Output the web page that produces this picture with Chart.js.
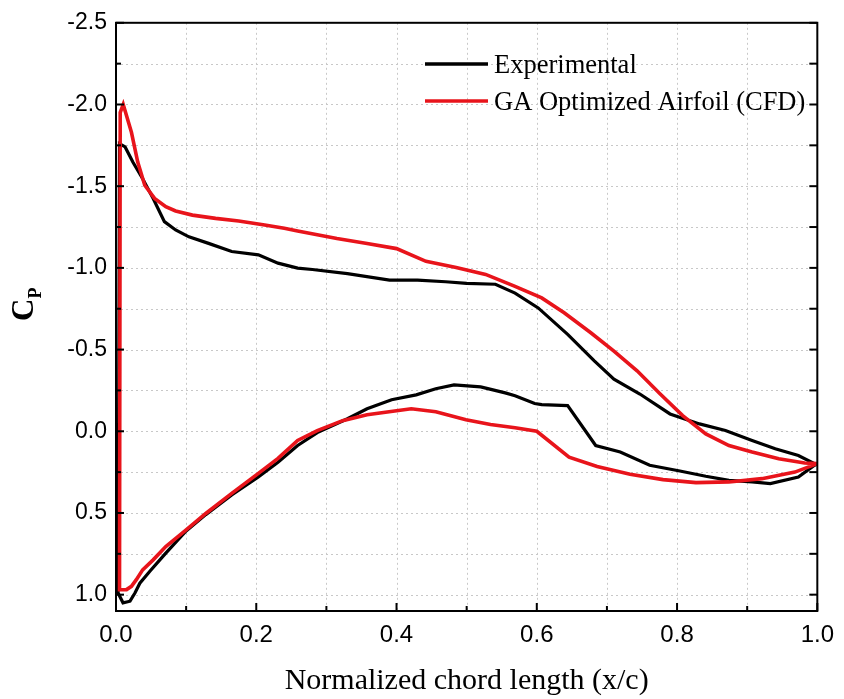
<!DOCTYPE html>
<html><head><meta charset="utf-8">
<script src="https://cdn.jsdelivr.net/npm/chart.js@4.4.1/dist/chart.umd.min.js"></script>
<style>html,body{margin:0;padding:0;background:#fff}#wrap{width:844px;height:699px}</style>
</head><body><div id="wrap"><canvas id="c" width="844" height="699"></canvas></div>
<script>
// Experimental: upper surface (TE -> LE), then lower surface (LE -> TE)
const expX = [1.0,0.996,0.973,0.94,0.907,0.869,0.832,0.79,0.747,0.71,0.682,0.644,0.602,0.569,0.541,0.50,0.47,0.43,0.39,0.33,0.28,0.259,0.231,0.203,0.165,0.132,0.104,0.085,0.069,0.053,0.038,0.024,0.013,0.005,
  0.003,0.01,0.02,0.027,0.034,0.048,0.071,0.1,0.128,0.165,0.203,0.231,0.259,0.287,0.33,0.358,0.393,0.428,0.456,0.482,0.52,0.555,0.569,0.597,0.607,0.644,0.684,0.719,0.761,0.804,0.841,0.874,0.907,0.933,0.973,0.996,1.0];
const expCp = [0.20,0.198,0.148,0.107,0.056,-0.005,-0.045,-0.106,-0.228,-0.319,-0.431,-0.593,-0.755,-0.846,-0.90,-0.905,-0.915,-0.925,-0.925,-0.965,-0.99,-0.999,-1.029,-1.08,-1.10,-1.15,-1.19,-1.232,-1.283,-1.425,-1.546,-1.648,-1.74,-1.76,
  0.99,1.05,1.04,0.99,0.93,0.858,0.746,0.61,0.51,0.39,0.279,0.19,0.087,0.008,-0.077,-0.138,-0.193,-0.223,-0.26,-0.284,-0.272,-0.235,-0.218,-0.17,-0.163,-0.157,0.087,0.127,0.208,0.243,0.275,0.30,0.31,0.32,0.28,0.208,0.20];
// GA Optimized Airfoil (CFD)
const cfdX = [1.0,0.982,0.945,0.907,0.874,0.841,0.808,0.776,0.743,0.71,0.677,0.639,0.607,0.569,0.555,0.527,0.485,0.442,0.4,0.358,0.315,0.259,0.24,0.212,0.175,0.142,0.109,0.085,0.071,0.055,0.041,0.031,0.022,0.0103,0.006,
  0.005,0.015,0.022,0.029,0.038,0.053,0.071,0.1,0.128,0.165,0.203,0.231,0.259,0.287,0.323,0.358,0.4,0.421,0.456,0.499,0.534,0.569,0.6,0.646,0.686,0.733,0.78,0.827,0.874,0.921,0.968,1.0];
const cfdCp = [0.198,0.194,0.168,0.127,0.087,0.016,-0.096,-0.228,-0.37,-0.491,-0.603,-0.725,-0.816,-0.887,-0.911,-0.96,-1.003,-1.04,-1.118,-1.149,-1.18,-1.226,-1.242,-1.263,-1.287,-1.303,-1.323,-1.348,-1.374,-1.425,-1.506,-1.648,-1.83,-2.0,-1.95,
  0.97,0.969,0.949,0.908,0.848,0.787,0.706,0.604,0.503,0.38,0.258,0.166,0.056,-0.004,-0.065,-0.101,-0.126,-0.138,-0.12,-0.071,-0.041,-0.022,0.0,0.158,0.215,0.263,0.296,0.314,0.31,0.29,0.25,0.198];

const seriesNames = ['Experimental','GA Optimized Airfoil (CFD)'];
const seriesColors = ['#000000','#e8141b'];
const xMajor = [0,0.2,0.4,0.6,0.8,1.0];
const xMinor = [0.1,0.3,0.5,0.7,0.9];
const yMajor = [-2.5,-2.0,-1.5,-1.0,-0.5,0.0,0.5,1.0];
const yMinor = [-2.25,-1.75,-1.25,-0.75,-0.25,0.25,0.75];

const toPts = (xs, ys) => xs.map((x,i)=>({x:x, y:ys[i]}));

const frame = {
  id:'frame',
  beforeDatasetsDraw(chart){
    const {ctx, chartArea:a, scales:{x,y}} = chart;
    ctx.save();
    ctx.strokeStyle = '#c8c8c8'; ctx.lineWidth = 1; ctx.setLineDash([2,3]);
    [...xMajor,...xMinor].forEach(v=>{const px=Math.round(x.getPixelForValue(v))+0.5; if(px<a.left+2||px>a.right-2) return; ctx.beginPath(); ctx.moveTo(px,a.top); ctx.lineTo(px,a.bottom); ctx.stroke();});
    [...yMajor,...yMinor].forEach(v=>{const py=Math.round(y.getPixelForValue(v))+0.5; if(py<a.top+2||py>a.bottom-2) return; ctx.beginPath(); ctx.moveTo(a.left,py); ctx.lineTo(a.right,py); ctx.stroke();});
    ctx.restore();
  },
  afterDatasetsDraw(chart){
    const {ctx, chartArea:a, scales:{x,y}} = chart;
    ctx.save();
    ctx.strokeStyle = '#000'; ctx.lineWidth = 2; ctx.setLineDash([]);
    const tick=(x1,y1,x2,y2)=>{ctx.beginPath();ctx.moveTo(x1,y1);ctx.lineTo(x2,y2);ctx.stroke();};
    xMajor.forEach(v=>{const p=x.getPixelForValue(v); tick(p,a.bottom,p,a.bottom-8);});
    xMinor.forEach(v=>{const p=x.getPixelForValue(v); tick(p,a.bottom,p,a.bottom-5);});
    yMajor.forEach(v=>{const p=y.getPixelForValue(v); tick(a.left,p,a.left+8,p); tick(a.right,p,a.right-8,p);});
    yMinor.forEach(v=>{const p=y.getPixelForValue(v); tick(a.left,p,a.left+5,p); tick(a.right,p,a.right-8,p);});
    ctx.strokeRect(a.left, a.top, a.right-a.left, a.bottom-a.top);
    ctx.restore();
  },
  afterDraw(chart){
    const {ctx} = chart;
    ctx.save();
    // legend
    chart.data.datasets.forEach((ds,i)=>{
      const ly = 64 + i*37;
      ctx.strokeStyle = ds.borderColor; ctx.lineWidth = 3.5;
      ctx.beginPath(); ctx.moveTo(425,ly); ctx.lineTo(488,ly); ctx.stroke();
      ctx.fillStyle = '#000'; ctx.font = '26.5px "Liberation Serif", serif';
      ctx.textAlign='left'; ctx.textBaseline='middle';
      ctx.fillText(ds.label, 494, ly+2);
    });
    // y title C_P
    ctx.translate(27, 302); ctx.rotate(-Math.PI/2);
    ctx.fillStyle='#000'; ctx.textBaseline='alphabetic'; ctx.textAlign='left';
    ctx.font = 'bold 31px "Liberation Serif", serif';
    ctx.fillText('C', -19, 6);
    const cw = ctx.measureText('C').width;
    ctx.font = 'bold 18px "Liberation Serif", serif';
    ctx.fillText('P', -19+cw, 14);
    ctx.restore();
  }
};

new Chart(document.getElementById('c'), {
  type:'scatter',
  data:{ datasets:[
    {label:seriesNames[0], data:toPts(expX,expCp), showLine:true, borderColor:seriesColors[0], borderWidth:3.2, pointRadius:0, tension:0, order:2},
    {label:seriesNames[1], data:toPts(cfdX,cfdCp), showLine:true, borderColor:seriesColors[1], borderWidth:3.6, pointRadius:0, tension:0, order:1}
  ]},
  options:{
    responsive:false, animation:false, devicePixelRatio:1,
    layout:{padding:{left:0,right:18,top:20,bottom:0}},
    plugins:{legend:{display:false}, tooltip:{enabled:false}},
    scales:{
      x:{type:'linear', min:0, max:1.0,
        afterFit(s){s.height=88;},
        afterBuildTicks(s){s.ticks = xMajor.map(v=>({value:v}));},
        grid:{display:false, drawTicks:false}, border:{display:false},
        ticks:{padding:10, color:'#000', font:{family:'"Liberation Sans Narrow","Liberation Sans",Arial,sans-serif', size:24}, callback:(v)=>Number(v).toFixed(1), maxRotation:0},
        title:{display:true, text:'Normalized chord length (x/c)', color:'#000', font:{family:'"Liberation Serif",serif', size:30}, padding:{top:0,bottom:0}}
      },
      y:{type:'linear', reverse:true, min:-2.5, max:1.1,
        afterFit(s){s.width=116;},
        afterBuildTicks(s){s.ticks = yMajor.map(v=>({value:v}));},
        grid:{display:false, drawTicks:false}, border:{display:false},
        ticks:{padding:9, color:'#000', font:{family:'"Liberation Sans",Arial,sans-serif', size:23}, callback:(v)=>Number(v).toFixed(1)}
      }
    }
  },
  plugins:[frame]
});
</script></body></html>
